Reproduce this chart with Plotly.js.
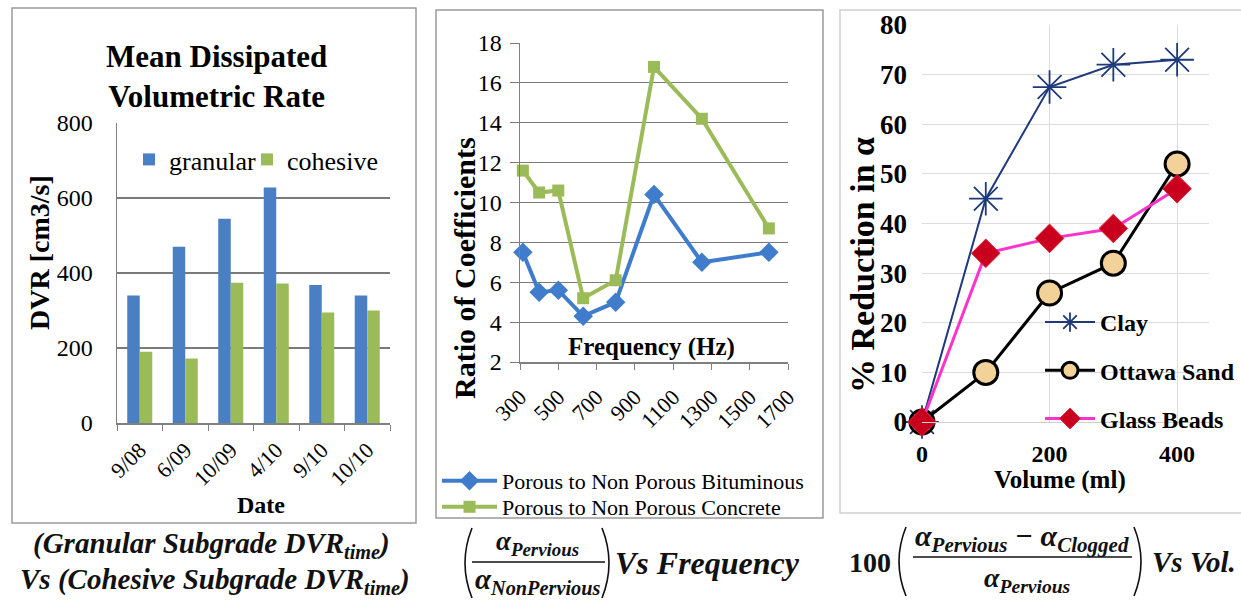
<!DOCTYPE html>
<html>
<head>
<meta charset="utf-8">
<script src="https://cdn.plot.ly/plotly-3.0.1.min.js"></script>
<style>html,body{margin:0;padding:0;background:#fff;}#chart{width:1241px;height:600px;}</style>
</head>
<body>
<div id="chart"></div>
<script>
// ---- Data ----
const dates = ['9/08', '6/09', '10/09', '4/10', '9/10', '10/10'];
const granular = [340, 470, 545, 628, 368, 340];
const cohesive = [190, 172, 374, 372, 295, 300];

const freq = [315, 400, 500, 630, 800, 1000, 1250, 1600];
const bituminous = [7.5, 5.5, 5.6, 4.3, 5.0, 10.4, 7.0, 7.5];
const concrete = [11.6, 10.5, 10.6, 5.2, 6.1, 16.8, 14.2, 8.7];

const volume = [0, 100, 200, 300, 400];
const clay = [0, 45, 67.5, 72, 73];
const ottawa = [0, 10, 26, 32, 52];
const glass = [0, 34, 37, 39, 47];

// ---- helpers (pixel -> paper) ----
const W = 1241, H = 600;
const px = x => x / W;
const py = y => 1 - y / H;
const SERIF = 'Liberation Serif, Times New Roman, serif';

const traces = [
  {type: 'bar', x: dates, y: granular, name: 'granular', marker: {color: '#4A7FC4'},
   xaxis: 'x', yaxis: 'y', legend: 'legend'},
  {type: 'bar', x: dates, y: cohesive, name: 'cohesive', marker: {color: '#9BBB59'},
   xaxis: 'x', yaxis: 'y', legend: 'legend5'},

  {type: 'scatter', mode: 'lines+markers', x: freq, y: bituminous, name: 'Porous to Non Porous Bituminous',
   line: {color: '#3F7CCB', width: 4}, marker: {symbol: 'diamond', size: 15, color: '#3F7CCB'},
   xaxis: 'x2', yaxis: 'y2', legend: 'legend2', cliponaxis: false},
  {type: 'scatter', mode: 'lines+markers', x: freq, y: concrete, name: 'Porous to Non Porous Concrete',
   line: {color: '#9BBB59', width: 4}, marker: {symbol: 'square', size: 12, color: '#9BBB59'},
   xaxis: 'x2', yaxis: 'y2', legend: 'legend4', cliponaxis: false},

  {type: 'scatter', mode: 'lines+markers', x: volume, y: clay, name: 'Clay', legendgroup: 'a',
   line: {color: '#1F3A7A', width: 2},
   marker: {symbol: 'asterisk-open', size: 28, line: {color: '#5AA0DC', width: 1.8}},
   xaxis: 'x3', yaxis: 'y3', legend: 'legend3', cliponaxis: false},
  {type: 'scatter', mode: 'lines+markers', x: volume, y: ottawa, name: 'Ottawa Sand', legendgroup: 'b',
   line: {color: '#000000', width: 3},
   marker: {symbol: 'circle', size: 24, color: '#F3D29A', line: {color: '#000000', width: 3}},
   xaxis: 'x3', yaxis: 'y3', legend: 'legend3', cliponaxis: false},
  {type: 'scatter', mode: 'lines+markers', x: volume, y: glass, name: 'Glass Beads', legendgroup: 'c',
   line: {color: '#FF33CC', width: 3},
   marker: {symbol: 'diamond', size: 22, color: '#C8001E', line: {color: '#E0203A', width: 1}},
   xaxis: 'x3', yaxis: 'y3', legend: 'legend3', cliponaxis: false}
];

function paren(x, y0, y1, left) {
  const d = left ? 7 : -7;
  const mid = (y0 + y1) / 2;
  return {type: 'path', xref: 'paper', yref: 'paper',
    path: `M ${px(x + d)},${py(y0)} Q ${px(x - d)},${py(mid)} ${px(x + d)},${py(y1)}`,
    line: {color: '#111', width: 1.6}};
}

const shapes = [
  {type: 'rect', xref: 'paper', yref: 'paper', x0: px(12), x1: px(416), y0: py(523), y1: py(8),
   line: {color: '#9a9a9a', width: 1.5}},
  {type: 'rect', xref: 'paper', yref: 'paper', x0: px(436), x1: px(823), y0: py(518), y1: py(10),
   line: {color: '#9a9a9a', width: 1.5}},
  {type: 'rect', xref: 'paper', yref: 'paper', x0: px(840), x1: px(1250), y0: py(513), y1: py(10),
   line: {color: '#d0d0d0', width: 1.5}},
  // fraction bars
  {type: 'line', xref: 'paper', yref: 'paper', x0: px(472), x1: px(605), y0: py(562), y1: py(562),
   line: {color: '#111', width: 1.6}},
  {type: 'line', xref: 'paper', yref: 'paper', x0: px(913), x1: px(1132), y0: py(557), y1: py(557),
   line: {color: '#111', width: 1.6}},
  paren(465, 528, 598, true), paren(609, 528, 598, false),
  paren(899, 527, 596, true), paren(1141, 527, 596, false)
];

const cap = s => ({family: SERIF, size: s, color: '#111', weight: 'bold'});
const ann = (x, y, text, extra) => Object.assign({xref: 'paper', yref: 'paper', x: px(x), y: py(y),
  text: text, showarrow: false, xanchor: 'center', yanchor: 'middle', font: cap(30)}, extra || {});

const annotations = [
  ann(216, 76, '<b>Mean Dissipated<br>Volumetric Rate</b>', {font: {family: SERIF, size: 31, color: '#000'}}),
  ann(40, 252, '<b>DVR [cm3/s]</b>', {textangle: -90, font: {family: SERIF, size: 28, color: '#000'}}),
  ann(261, 505, '<b>Date</b>', {font: {family: SERIF, size: 24, color: '#000'}}),

  ann(464, 268, '<b>Ratio of Coefficients</b>', {textangle: -90, font: {family: SERIF, size: 30, color: '#000'}}),
  ann(651, 347, '<b>Frequency (Hz)</b>', {font: {family: SERIF, size: 25, color: '#000'}}),

  ann(862, 265, '<b>% Reduction in α</b>', {textangle: -90, font: {family: SERIF, size: 34, color: '#000'}}),
  ann(1060, 480, '<b>Volume (ml)</b>', {font: {family: SERIF, size: 25, color: '#000'}}),

  // captions
  ann(211, 545, '<i>(Granular Subgrade DVR<sub>time</sub>)</i>', {font: cap(29)}),
  ann(215, 581, '<i>Vs (Cohesive Subgrade DVR<sub>time</sub>)</i>', {font: cap(29)}),
  ann(537, 543, '<i>α<sub>Pervious</sub></i>', {font: cap(27)}),
  ann(537, 581, '<i>α<sub>NonPervious</sub></i>', {font: cap(29)}),
  ann(613, 563, '<i>Vs Frequency</i>', {xanchor: 'left', font: cap(32)}),
  ann(847, 562, '100', {xanchor: 'left', font: cap(28)}),
  ann(1022, 538, '<i>α<sub>Pervious</sub> − α<sub>Clogged</sub></i>', {font: cap(30)}),
  ann(1027, 579, '<i>α<sub>Pervious</sub></i>', {font: cap(28)}),
  ann(1150, 562, '<i>Vs Vol.</i>', {xanchor: 'left', font: cap(29)})
];

const legBase = {xanchor: 'left', yanchor: 'top', bgcolor: 'rgba(0,0,0,0)'};
const layout = {
  width: W, height: H,
  margin: {l: 0, r: 0, t: 0, b: 0},
  paper_bgcolor: '#fff', plot_bgcolor: 'rgba(0,0,0,0)',
  font: {family: SERIF, color: '#000'},
  barmode: 'group', bargap: 0.45, bargroupgap: 0,
  showlegend: true,
  xaxis: {domain: [px(117), px(390)], anchor: 'y', type: 'category', range: [-0.5, 5.5],
    showline: true, linecolor: '#808080', linewidth: 1.5, ticks: 'outside', tickson: 'boundaries',
    ticklen: 6, tickcolor: '#808080', tickangle: -45, tickfont: {family: SERIF, size: 22},
    ticklabelstandoff: 4, showgrid: false, fixedrange: true},
  yaxis: {domain: [py(423), py(123)], anchor: 'x', range: [0, 800], dtick: 200,
    showline: true, linecolor: '#808080', linewidth: 1.5, gridcolor: '#7a7a7a', gridwidth: 1.2,
    tickfont: {family: SERIF, size: 24}, ticklabelstandoff: 18, zeroline: false},
  xaxis2: {domain: [px(520), px(788)], anchor: 'y2', range: [300, 1700], tick0: 300, dtick: 200,
    showline: true, linecolor: '#808080', linewidth: 1.5, ticks: 'outside', ticklen: 6, tickcolor: '#808080',
    tickangle: -45, tickfont: {family: SERIF, size: 22}, ticklabelstandoff: 6, showgrid: false, zeroline: false},
  yaxis2: {domain: [py(362), py(43)], anchor: 'x2', range: [2, 18], dtick: 2,
    showline: true, linecolor: '#808080', linewidth: 1.5, gridcolor: '#7a7a7a', gridwidth: 1.2,
    ticks: 'outside', ticklen: 9, tickcolor: '#7a7a7a',
    tickfont: {family: SERIF, size: 24}, ticklabelstandoff: 3, zeroline: false},
  xaxis3: {domain: [px(922), px(1209)], anchor: 'y3', range: [0, 450], tick0: 0, dtick: 200,
    showline: true, linecolor: '#d0d0d0', gridcolor: '#dcdcdc', zeroline: false,
    tickfont: {family: SERIF, size: 24, weight: 'bold'}, ticklabelstandoff: 10},
  yaxis3: {domain: [py(422), py(25)], anchor: 'x3', range: [0, 80], dtick: 10,
    showline: false, gridcolor: '#dcdcdc', zeroline: false,
    tickfont: {family: SERIF, size: 27, weight: 'bold'}, ticklabelstandoff: 14},
  legend: Object.assign({x: px(129), y: py(136), font: {family: SERIF, size: 26}, itemwidth: 30}, legBase),
  legend5: Object.assign({x: px(247), y: py(136), font: {family: SERIF, size: 26}, itemwidth: 30}, legBase),
  legend2: Object.assign({x: px(437), y: py(460), font: {family: SERIF, size: 22}, itemwidth: 55}, legBase),
  legend4: Object.assign({x: px(437), y: py(486), font: {family: SERIF, size: 22}, itemwidth: 55}, legBase),
  legend3: Object.assign({x: px(1040), y: py(300), font: {family: SERIF, size: 24, weight: 'bold'},
    traceorder: 'grouped', tracegroupgap: 14, itemwidth: 50}, legBase),
  shapes: shapes,
  annotations: annotations
};

Plotly.newPlot('chart', traces, layout, {staticPlot: true, displayModeBar: false});
</script>
</body>
</html>
